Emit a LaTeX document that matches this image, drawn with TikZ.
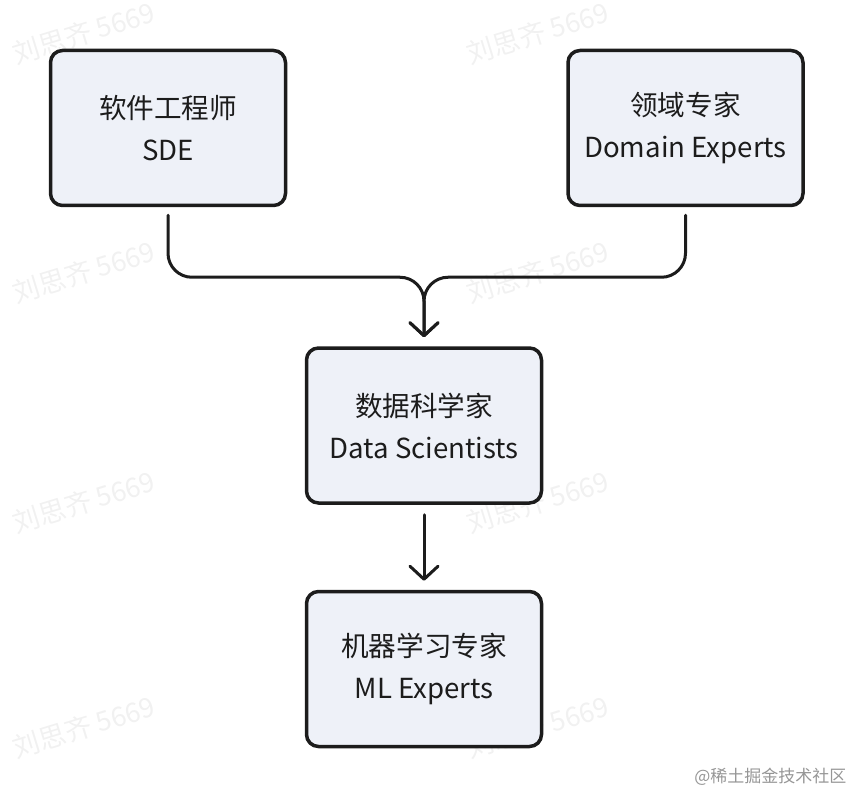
\documentclass[tikz,border=0pt]{standalone}
\usepackage{fontspec}
\setmainfont{Noto Sans CJK SC}
\usetikzlibrary{arrows.meta,positioning}
\definecolor{boxfill}{RGB}{238,241,248}
\definecolor{ink}{RGB}{28,28,28}
\definecolor{wmgray}{RGB}{241,241,241}
\definecolor{creditgray}{RGB}{150,150,150}

\begin{document}
\begin{tikzpicture}[
  x=1pt, y=1pt,
  node distance=139pt and 279pt,
  every node/.style={font=\fontsize{27.6}{42}\selectfont, text=ink},
  box/.style={draw=ink, line width=3.5pt, rounded corners=12pt, fill=boxfill,
    minimum width=235pt, minimum height=155pt, align=center, inner sep=0pt},
  link/.style={draw=ink, line width=3pt, rounded corners=24pt, line cap=round,
    -{Straight Barb[length=13pt, width=28pt, round]}},
  wmark/.style={font=\fontsize{27}{27}\selectfont, text=wmgray, rotate=17}
]
\useasboundingbox (0,0) rectangle (854,-794);
\foreach \x in {84,538}
  \foreach \y in {33,272,502,727}
    \node[wmark] (wm-\x-\y) at (\x,-\y) {刘思齐 5669};

\node[box] (sde) at (168,-128) {软件工程师\\SDE};
\node[box, right=of sde] (domain) {领域专家\\Domain Experts};
\node[box, below=of sde, xshift=256pt] (data) {数据科学家\\Data Scientists};
\node[box, below=85pt of data] (ml) {机器学习专家\\ML Experts};

\draw[link] ([yshift=-8pt]sde.south) |- ([yshift=69pt]data.north) -- ([yshift=9pt]data.north);
\draw[link] ([yshift=-8pt]domain.south) |- ([yshift=69pt]data.north) -- ([yshift=9pt]data.north);
\draw[link] ([yshift=-10pt]data.south) -- ([yshift=9pt]ml.north);

\node[font=\fontsize{17}{17}\selectfont, text=creditgray, anchor=east] (credit) at (850,-777) {@稀土掘金技术社区};
\end{tikzpicture}
\end{document}
